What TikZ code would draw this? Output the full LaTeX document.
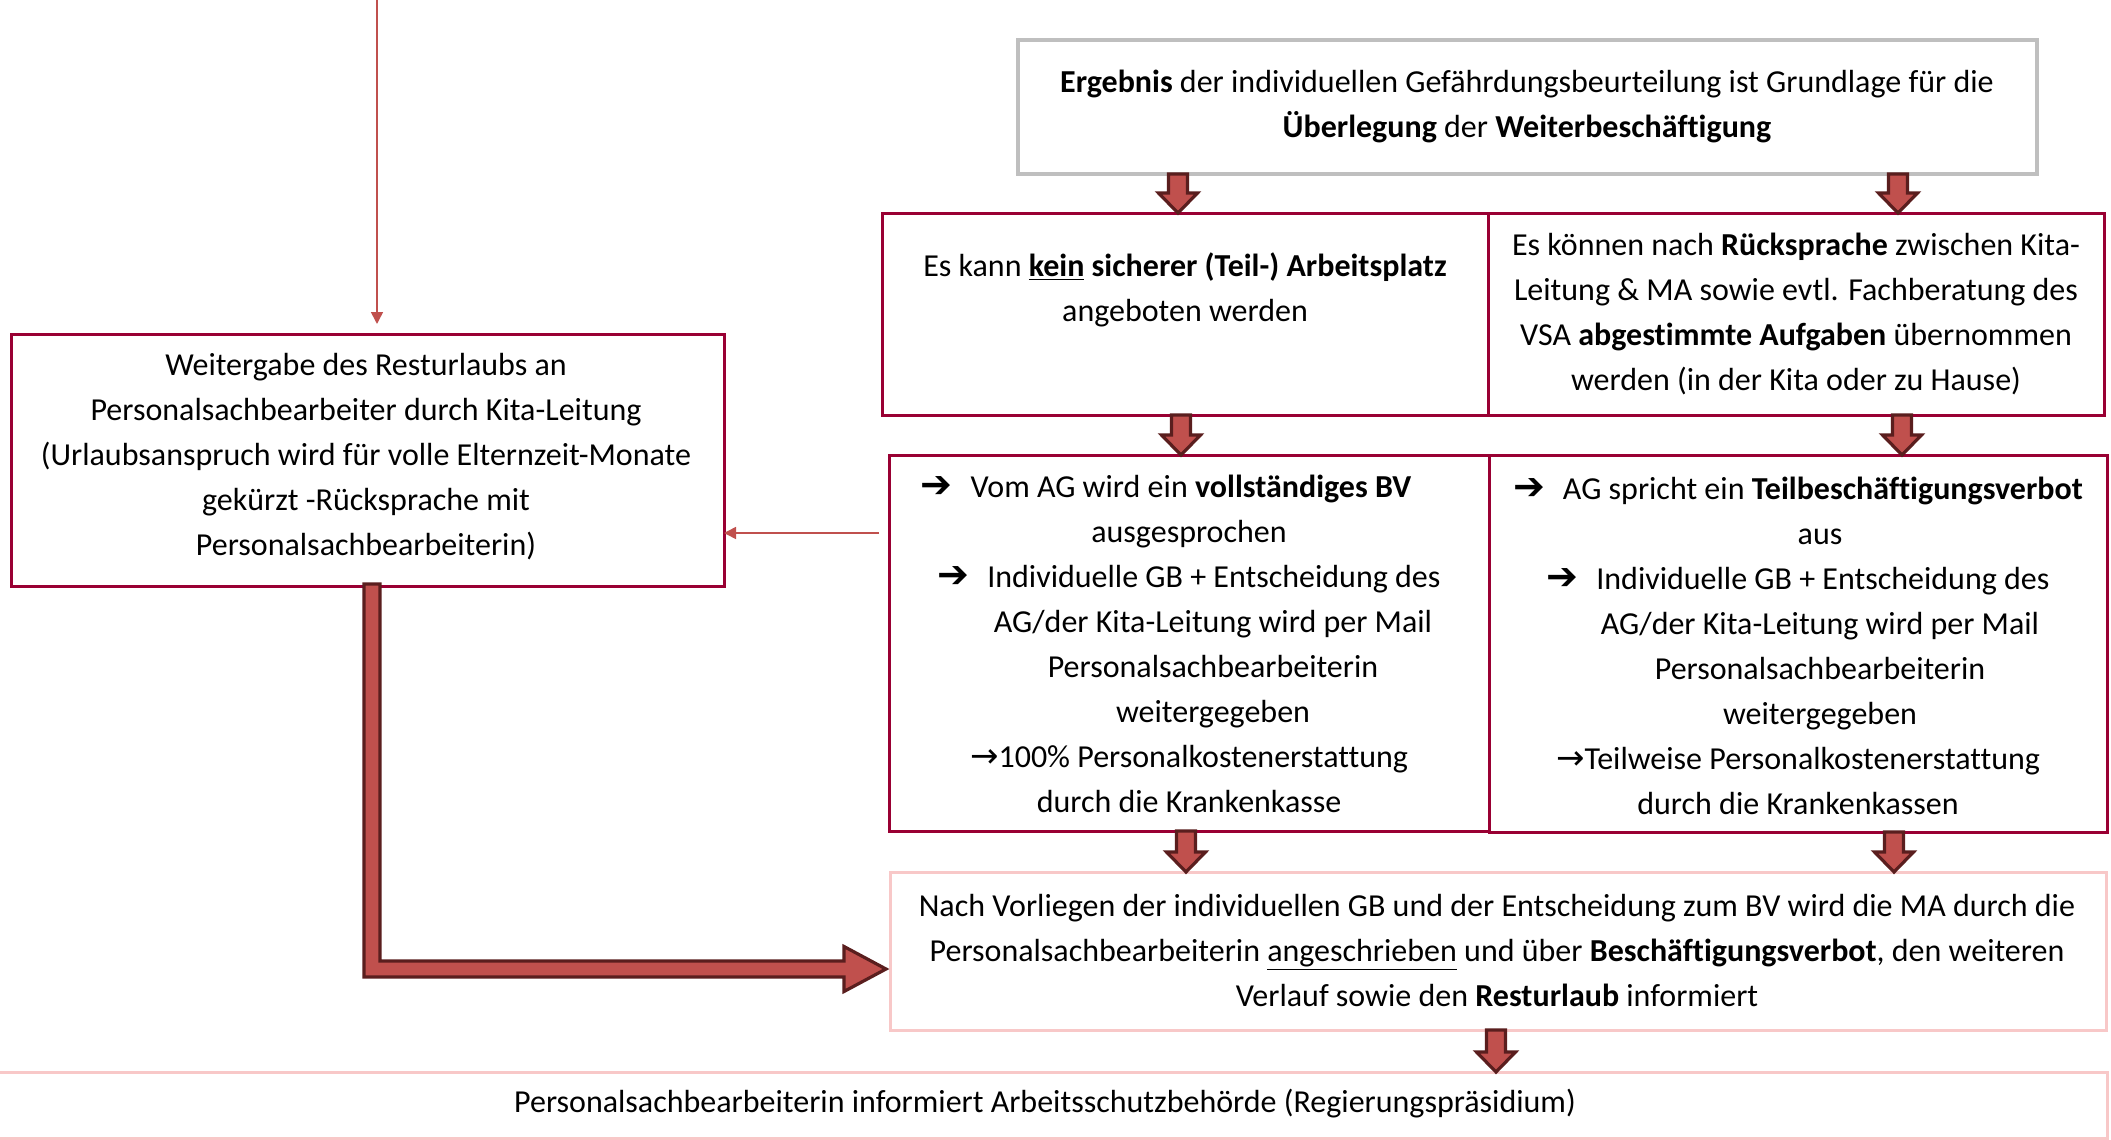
\documentclass[tikz,border=0pt]{standalone}
\usepackage{fontspec}
\setmainfont{Carlito}[Ligatures=NoCommon]
\newfontfamily\symf{DejaVu Sans}
\usetikzlibrary{calc,arrows.meta}
\definecolor{crimson}{HTML}{990033}
\definecolor{pinkline}{HTML}{F8C8C8}
\definecolor{grayline}{HTML}{BFBFBF}
\definecolor{arrfill}{HTML}{C0504D}
\definecolor{arrdark}{HTML}{5A1E1E}
\newcommand\bigarr{{\symf\fontsize{19pt}{19pt}\selectfont ➔}}
\newcommand\smarr{{\symf\fontsize{17pt}{17pt}\selectfont →}}
\newcommand\blkdown[2]{\path[blk] let \p1=(#1), \p2=(#2) in
  ({\x2-4.75pt},\y1) -- ({\x2-4.75pt},{\y2+10pt}) -- ({\x2-9.75pt},{\y2+10pt}) -- (\x2,\y2)
  -- ({\x2+9.75pt},{\y2+10pt}) -- ({\x2+4.75pt},{\y2+10pt}) -- ({\x2+4.75pt},\y1) -- cycle;}
\begin{document}
\begin{tikzpicture}[x=0.5pt,y=-0.5pt,
  box/.style={draw=crimson,line width=1.5pt,rectangle,inner sep=0pt,outer sep=0pt},
  pinkbox/.style={draw=pinkline,line width=1.5pt,rectangle,inner sep=0pt,outer sep=0pt},
  graybox/.style={draw=grayline,line width=2pt,rectangle,inner sep=0pt,outer sep=0pt},
  txt/.style={inner sep=0pt,align=center,font=\fontsize{16pt}{22.5pt}\selectfont},
  blk/.style={fill=arrfill,draw=arrdark,line width=1.6pt,line join=miter},
  thinarr/.style={draw=arrfill,line width=0.8pt,-{Triangle[length=6pt,width=6pt]}}]
\fill[white] (0,0) rectangle (2111,1140);
\useasboundingbox (0,0) rectangle (2111,1140);
% boxes
\node[graybox,minimum width=509.5pt,minimum height=67pt] (top) at (1527.5,107) {};
\node[box,minimum width=303pt,minimum height=101pt] (r2l) at (1185,314) {};
\node[box,minimum width=308pt,minimum height=101pt] (r2r) at (1796,314) {};
\node[box,minimum width=300pt,minimum height=188pt] (r3l) at (1189,643) {};
\node[box,minimum width=309pt,minimum height=188.5pt] (r3r) at (1798,643.5) {};
\node[pinkbox,minimum width=608pt,minimum height=79pt] (r4) at (1498,951) {};
\node[pinkbox,minimum width=1058.5pt,minimum height=33pt] (bot) at (1048.5,1105) {};
\node[box,minimum width=356.5pt,minimum height=126pt] (left) at (367.5,460) {};
% texts
\node[txt] (tTop) at (1527,106) {\textbf{Ergebnis} der individuellen Gefährdungsbeurteilung ist Grundlage für die\\\textbf{Überlegung} der \textbf{Weiterbeschäftigung}};
\node[txt] (tR2l) at (1185,290) {Es kann \underline{\textbf{kein}} \textbf{sicherer (Teil-) Arbeitsplatz}\\angeboten werden};
\node[txt] (tR2r) at (1796,314) {Es können nach \textbf{Rücksprache} zwischen Kita-\\Leitung \& MA sowie evtl. Fachberatung des\\VSA \textbf{abgestimmte Aufgaben} übernommen\\werden (in der Kita oder zu Hause)};
\node[txt] (tR3l) at (1189,644) {\hspace*{-23pt}\bigarr\hspace{9pt}Vom AG wird ein \textbf{vollständiges BV}\\
ausgesprochen\\
\bigarr\hspace{9pt}Individuelle GB + Entscheidung des\\
\hspace*{24pt}AG/der Kita-Leitung wird per Mail\\
\hspace*{24pt}Personalsachbearbeiterin\\
\hspace*{24pt}weitergegeben\\
\smarr100\% Personalkostenerstattung\\
durch die Krankenkasse};
\node[txt] (tR3r) at (1798,646) {\bigarr\hspace{9pt}AG spricht ein \textbf{Teilbeschäftigungsverbot}\\
\hspace*{22pt}aus\\
\bigarr\hspace{9pt}Individuelle GB + Entscheidung des\\
\hspace*{22pt}AG/der Kita-Leitung wird per Mail\\
\hspace*{22pt}Personalsachbearbeiterin\\
\hspace*{22pt}weitergegeben\\
\smarr Teilweise Personalkostenerstattung\\
durch die Krankenkassen};
\node[txt] (tR4) at (1497,950) {Nach Vorliegen der individuellen GB und der Entscheidung zum BV wird die MA durch die\\Personalsachbearbeiterin \underline{angeschrieben} und über \textbf{Beschäftigungsverbot}, den weiteren\\Verlauf sowie den \textbf{Resturlaub} informiert};
\node[txt] (tBot) at (1045,1104) {Personalsachbearbeiterin informiert Arbeitsschutzbehörde (Regierungspräsidium)};
\node[txt] (tLeft) at (366,457) {Weitergabe des Resturlaubs an\\Personalsachbearbeiter durch Kita-Leitung\\(Urlaubsanspruch wird für volle Elternzeit-Monate\\gekürzt -Rücksprache mit\\Personalsachbearbeiterin)};
% helper coordinates
\coordinate (c1) at (1178,0);
\coordinate (c2) at (1898,0);
\coordinate (c3) at (1181,0);
\coordinate (c4) at (1902,0);
\coordinate (c5) at (1186,0);
\coordinate (c6) at (1894,0);
\coordinate (c7) at (1496,0);
\coordinate (lc) at (372,969);
\coordinate (t0) at (377,0);
\coordinate (t1) at (879,533);
% thin arrows
\draw[thinarr,shorten >=5pt] (t0) -- (left.north -| t0);
\draw[thinarr] (t1) -- (left.east |- t1);
% block arrows
\blkdown{top.south -| c1}{r2l.north -| c1}
\blkdown{top.south -| c2}{r2r.north -| c2}
\blkdown{r2l.south -| c3}{r3l.north -| c3}
\blkdown{r2r.south -| c4}{r3r.north -| c4}
\blkdown{r3l.south -| c5}{r4.north -| c5}
\blkdown{r3r.south -| c6}{r4.north -| c6}
\blkdown{r4.south -| c7}{bot.north -| c7}
% L arrow
\path[blk] let \p1=(left.south -| lc), \p2=(lc), \p3=(r4.west |- lc) in
  ({\x1-4pt},{\y1+1pt}) -- ({\x2-4pt},{\y2-4pt}) -- ({\x3-23pt},{\y2-4pt}) -- ({\x3-23pt},{\y2-11.25pt})
  -- ({\x3-2pt},\y2) -- ({\x3-23pt},{\y2+11.25pt}) -- ({\x3-23pt},{\y2+4pt}) -- ({\x2+4pt},{\y2+4pt})
  -- ({\x2+4pt},{\y1+1pt}) -- cycle;
\end{tikzpicture}
\end{document}
